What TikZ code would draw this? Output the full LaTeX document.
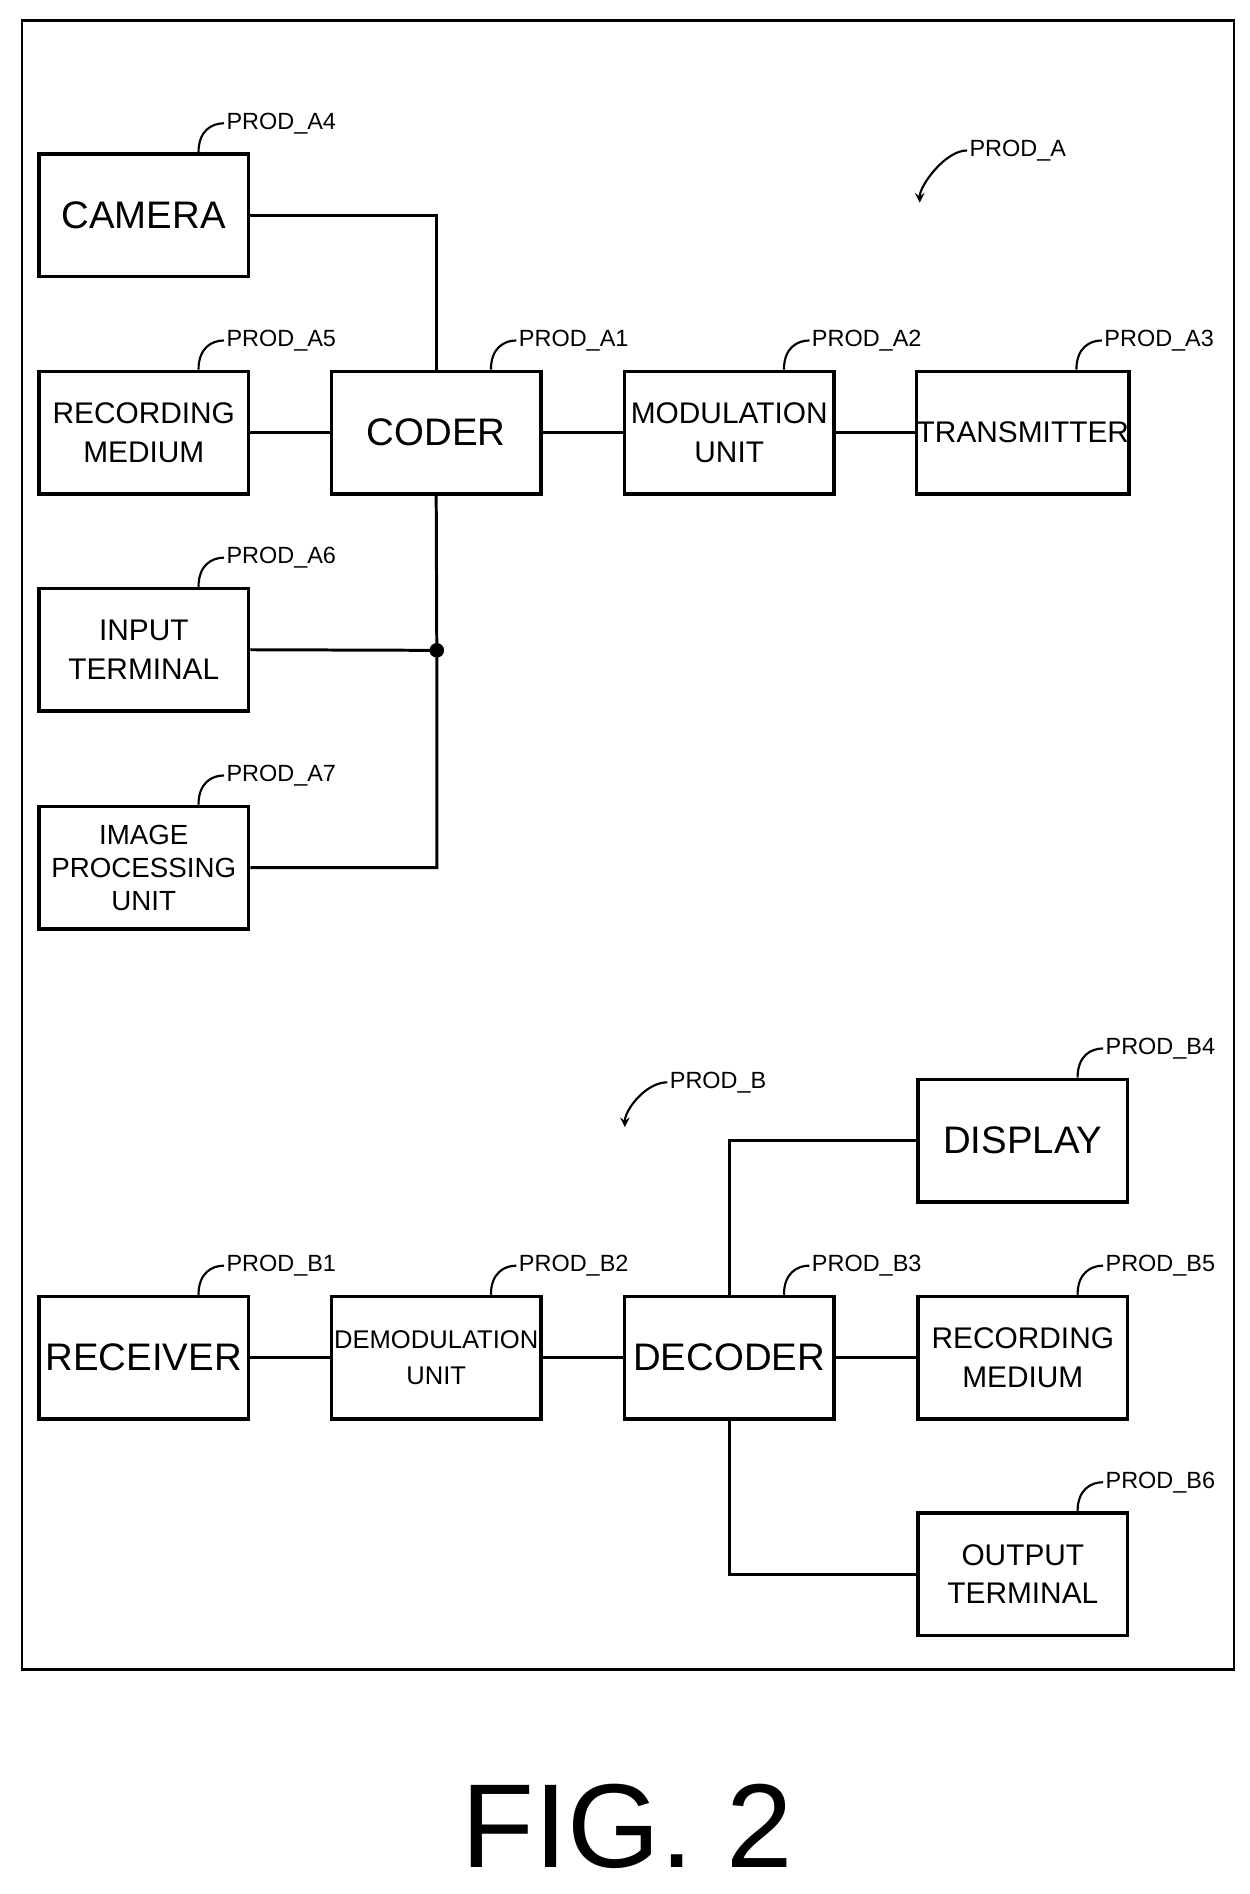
\documentclass[tikz,border=0pt]{standalone}
\usepackage{fontspec}
\setmainfont{Liberation Sans}
\usetikzlibrary{positioning,calc}
\tikzset{
  blk/.style={draw,line width=1.6pt,minimum width=3.46cm,minimum height=2.02cm,inner sep=0pt,align=center,font=\fontsize{14}{18}\selectfont},
  big/.style={blk,font=\fontsize{18}{20}\selectfont},
  lbl/.style={anchor=west,inner sep=1pt,font=\fontsize{11}{13}\selectfont},
  wire/.style={line width=1.4pt}
}
\newcommand{\prodtag}[3]{% box, label node name, text
  \node[lbl] (#2) at ($(#1.north west)+(154,-24)$) {#3};
  \draw[line width=1pt] ($(#1.north west)+(133,0)$) .. controls +(0,-18) and +(-10,0) .. (#2.west);
}
\begin{document}
\begin{tikzpicture}[x=0.02cm,y=-0.02cm]
\useasboundingbox (0,0) rectangle (1030,1561);
\draw[line width=1.2pt] (18,17) rectangle (1017,1376);
% group A
\node[big] (cam) at (118.5,177.5) {CAMERA};
\node[blk] (recA) at (118.5,356.5) {RECORDING\\MEDIUM};
\node[big] (coder) at (359.5,356.5) {CODER};
\node[blk] (mod) at (601,356.5) {MODULATION\\UNIT};
\node[blk] (tx) at (843,356.5) {TRANSMITTER};
\node[blk] (inp) at (118.5,535.5) {INPUT\\TERMINAL};
\node[blk,font=\fontsize{13}{15.5}\selectfont] (img) at (118.5,715) {IMAGE\\PROCESSING\\UNIT};
\coordinate (dot) at (360,536);
\draw[wire] (cam.east) -| (coder.north);
\draw[wire] (recA) -- (coder);
\draw[wire] (coder) -- (mod);
\draw[wire] (mod) -- (tx);
\draw[wire] (coder.south) -- (dot) |- (img.east);
\draw[wire] (inp.east) -- (dot);
\fill (dot) circle (6);
\prodtag{cam}{lA4}{PROD\_A4}
\prodtag{recA}{lA5}{PROD\_A5}
\prodtag{coder}{lA1}{PROD\_A1}
\prodtag{mod}{lA2}{PROD\_A2}
\prodtag{tx}{lA3}{PROD\_A3}
\prodtag{inp}{lA6}{PROD\_A6}
\prodtag{img}{lA7}{PROD\_A7}
\node[lbl] (pA) at (797,124) {PROD\_A};
\draw[line width=1pt,-stealth] (pA.west) .. controls +(-18,0) and +(0,-14) .. (758,167);
% group B
\node[big] (disp) at (843,940) {DISPLAY};
\node[big] (rx) at (118.5,1119) {RECEIVER};
\node[blk,font=\fontsize{12}{17}\selectfont] (dem) at (359.5,1119) {DEMODULATION\\UNIT};
\node[big] (dec) at (601,1119) {DECODER};
\node[blk] (recB) at (843,1119) {RECORDING\\MEDIUM};
\node[blk] (out) at (843,1297.5) {OUTPUT\\TERMINAL};
\draw[wire] (rx) -- (dem);
\draw[wire] (dem) -- (dec);
\draw[wire] (dec) -- (recB);
\draw[wire] (dec.north) |- (disp.west);
\draw[wire] (dec.south) |- (out.west);
\prodtag{disp}{lB4}{PROD\_B4}
\prodtag{rx}{lB1}{PROD\_B1}
\prodtag{dem}{lB2}{PROD\_B2}
\prodtag{dec}{lB3}{PROD\_B3}
\prodtag{recB}{lB5}{PROD\_B5}
\prodtag{out}{lB6}{PROD\_B6}
\node[lbl] (pB) at (550,892) {PROD\_B};
\draw[line width=1pt,-stealth] (pB.west) .. controls +(-18,0) and +(0,-14) .. (515,929);
\node[font=\fontsize{56}{60}\selectfont] (fig) at (517,1505) {FIG. 2};
\end{tikzpicture}
\end{document}
